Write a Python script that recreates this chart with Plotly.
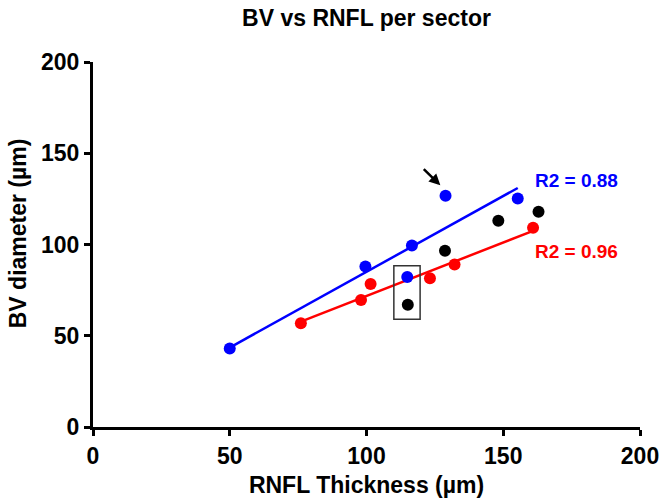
import plotly.graph_objects as go
import numpy as np

# values
blue_x = [50, 99.6, 114.9, 116.6, 128.9, 155.3]
blue_y = [43, 87.9, 82.2, 99.5, 126.7, 125.2]
red_x = [76, 98, 101.5, 123.2, 132.2, 160.9]
red_y = [56.8, 69.6, 78.4, 81.5, 89.1, 109.2]
black_x = [115.1, 128.7, 148.2, 162.9]
black_y = [67.0, 96.6, 113.0, 118.0]

blue_label = "R2 = 0.88"
red_label = "R2 = 0.96"
ticks = [0, 50, 100, 150, 200]

BLUE = "#0000ff"
RED = "#ff0000"
FONT = "Arial, Liberation Sans, Helvetica, sans-serif"


def fit_line(x, y):
    slope, icept = np.polyfit(x, y, 1)
    xs = np.array([min(x), max(x)])
    return xs, slope * xs + icept


fig = go.Figure()

for xs, ys, col in [(blue_x, blue_y, BLUE), (red_x, red_y, RED)]:
    fx, fy = fit_line(xs, ys)
    fig.add_trace(go.Scatter(x=fx, y=fy, mode="lines",
                             line=dict(color=col, width=2.5),
                             showlegend=False, hoverinfo="skip"))

for xs, ys, col in [(red_x, red_y, RED), (black_x, black_y, "#000000"),
                    (blue_x, blue_y, BLUE)]:
    fig.add_trace(go.Scatter(x=xs, y=ys, mode="markers",
                             marker=dict(color=col, size=12),
                             showlegend=False))

# box around the two points near x=115
fig.add_shape(type="rect", x0=110, x1=119.6, y0=59, y1=88.4,
              line=dict(color="#333333", width=1.5))

# arrow pointing at the outlier
fig.add_annotation(x=127, y=132.4, ax=120.4, ay=142.1,
                   xref="x", yref="y", axref="x", ayref="y",
                   text="", showarrow=True, arrowhead=2, arrowsize=0.9,
                   arrowwidth=2.5, arrowcolor="#000000")

fig.add_annotation(x=160.8, y=134.8, text=blue_label, showarrow=False,
                   xanchor="left", yanchor="middle",
                   font=dict(family=FONT, size=19, color=BLUE, weight="bold"))
fig.add_annotation(x=160.8, y=95.9, text=red_label, showarrow=False,
                   xanchor="left", yanchor="middle",
                   font=dict(family=FONT, size=19, color=RED, weight="bold"))

# y axis title as a rotated annotation, sits a bit above the plot centre
fig.add_annotation(text="BV diameter (µm)", xref="paper", yref="paper",
                   x=-0.137, y=0.531, textangle=-90, showarrow=False,
                   xanchor="center", yanchor="middle",
                   font=dict(family=FONT, size=23, color="#000000",
                             weight="bold"))

axis_common = dict(
    range=[0, 200], tickvals=ticks, showgrid=False, zeroline=False,
    showline=True, linecolor="#000000", linewidth=3,
    ticks="outside", ticklen=6, tickwidth=3, tickcolor="#000000",
    automargin=False,
    tickfont=dict(family=FONT, size=23, color="#000000", weight="bold"),
)

fig.update_xaxes(**axis_common,
                 title=dict(text="RNFL Thickness (µm)", standoff=10,
                            font=dict(family=FONT, size=23, color="#000000",
                                      weight="bold")))
fig.update_yaxes(**axis_common)

fig.update_layout(
    width=663, height=503,
    margin=dict(l=93, r=23, t=62, b=76),
    plot_bgcolor="white", paper_bgcolor="white",
    title=dict(text="BV vs RNFL per sector", x=0.5, xref="paper",
               y=0.964, yref="container", yanchor="middle",
               font=dict(family=FONT, size=23, color="#000000",
                         weight="bold")),
)

# drop the default page margin so the figure fills the window exactly
fig.write_html("out.html", config={"displayModeBar": False}, post_script=(
    "document.body.style.margin='0';"
    "document.body.style.overflow='hidden';"))
